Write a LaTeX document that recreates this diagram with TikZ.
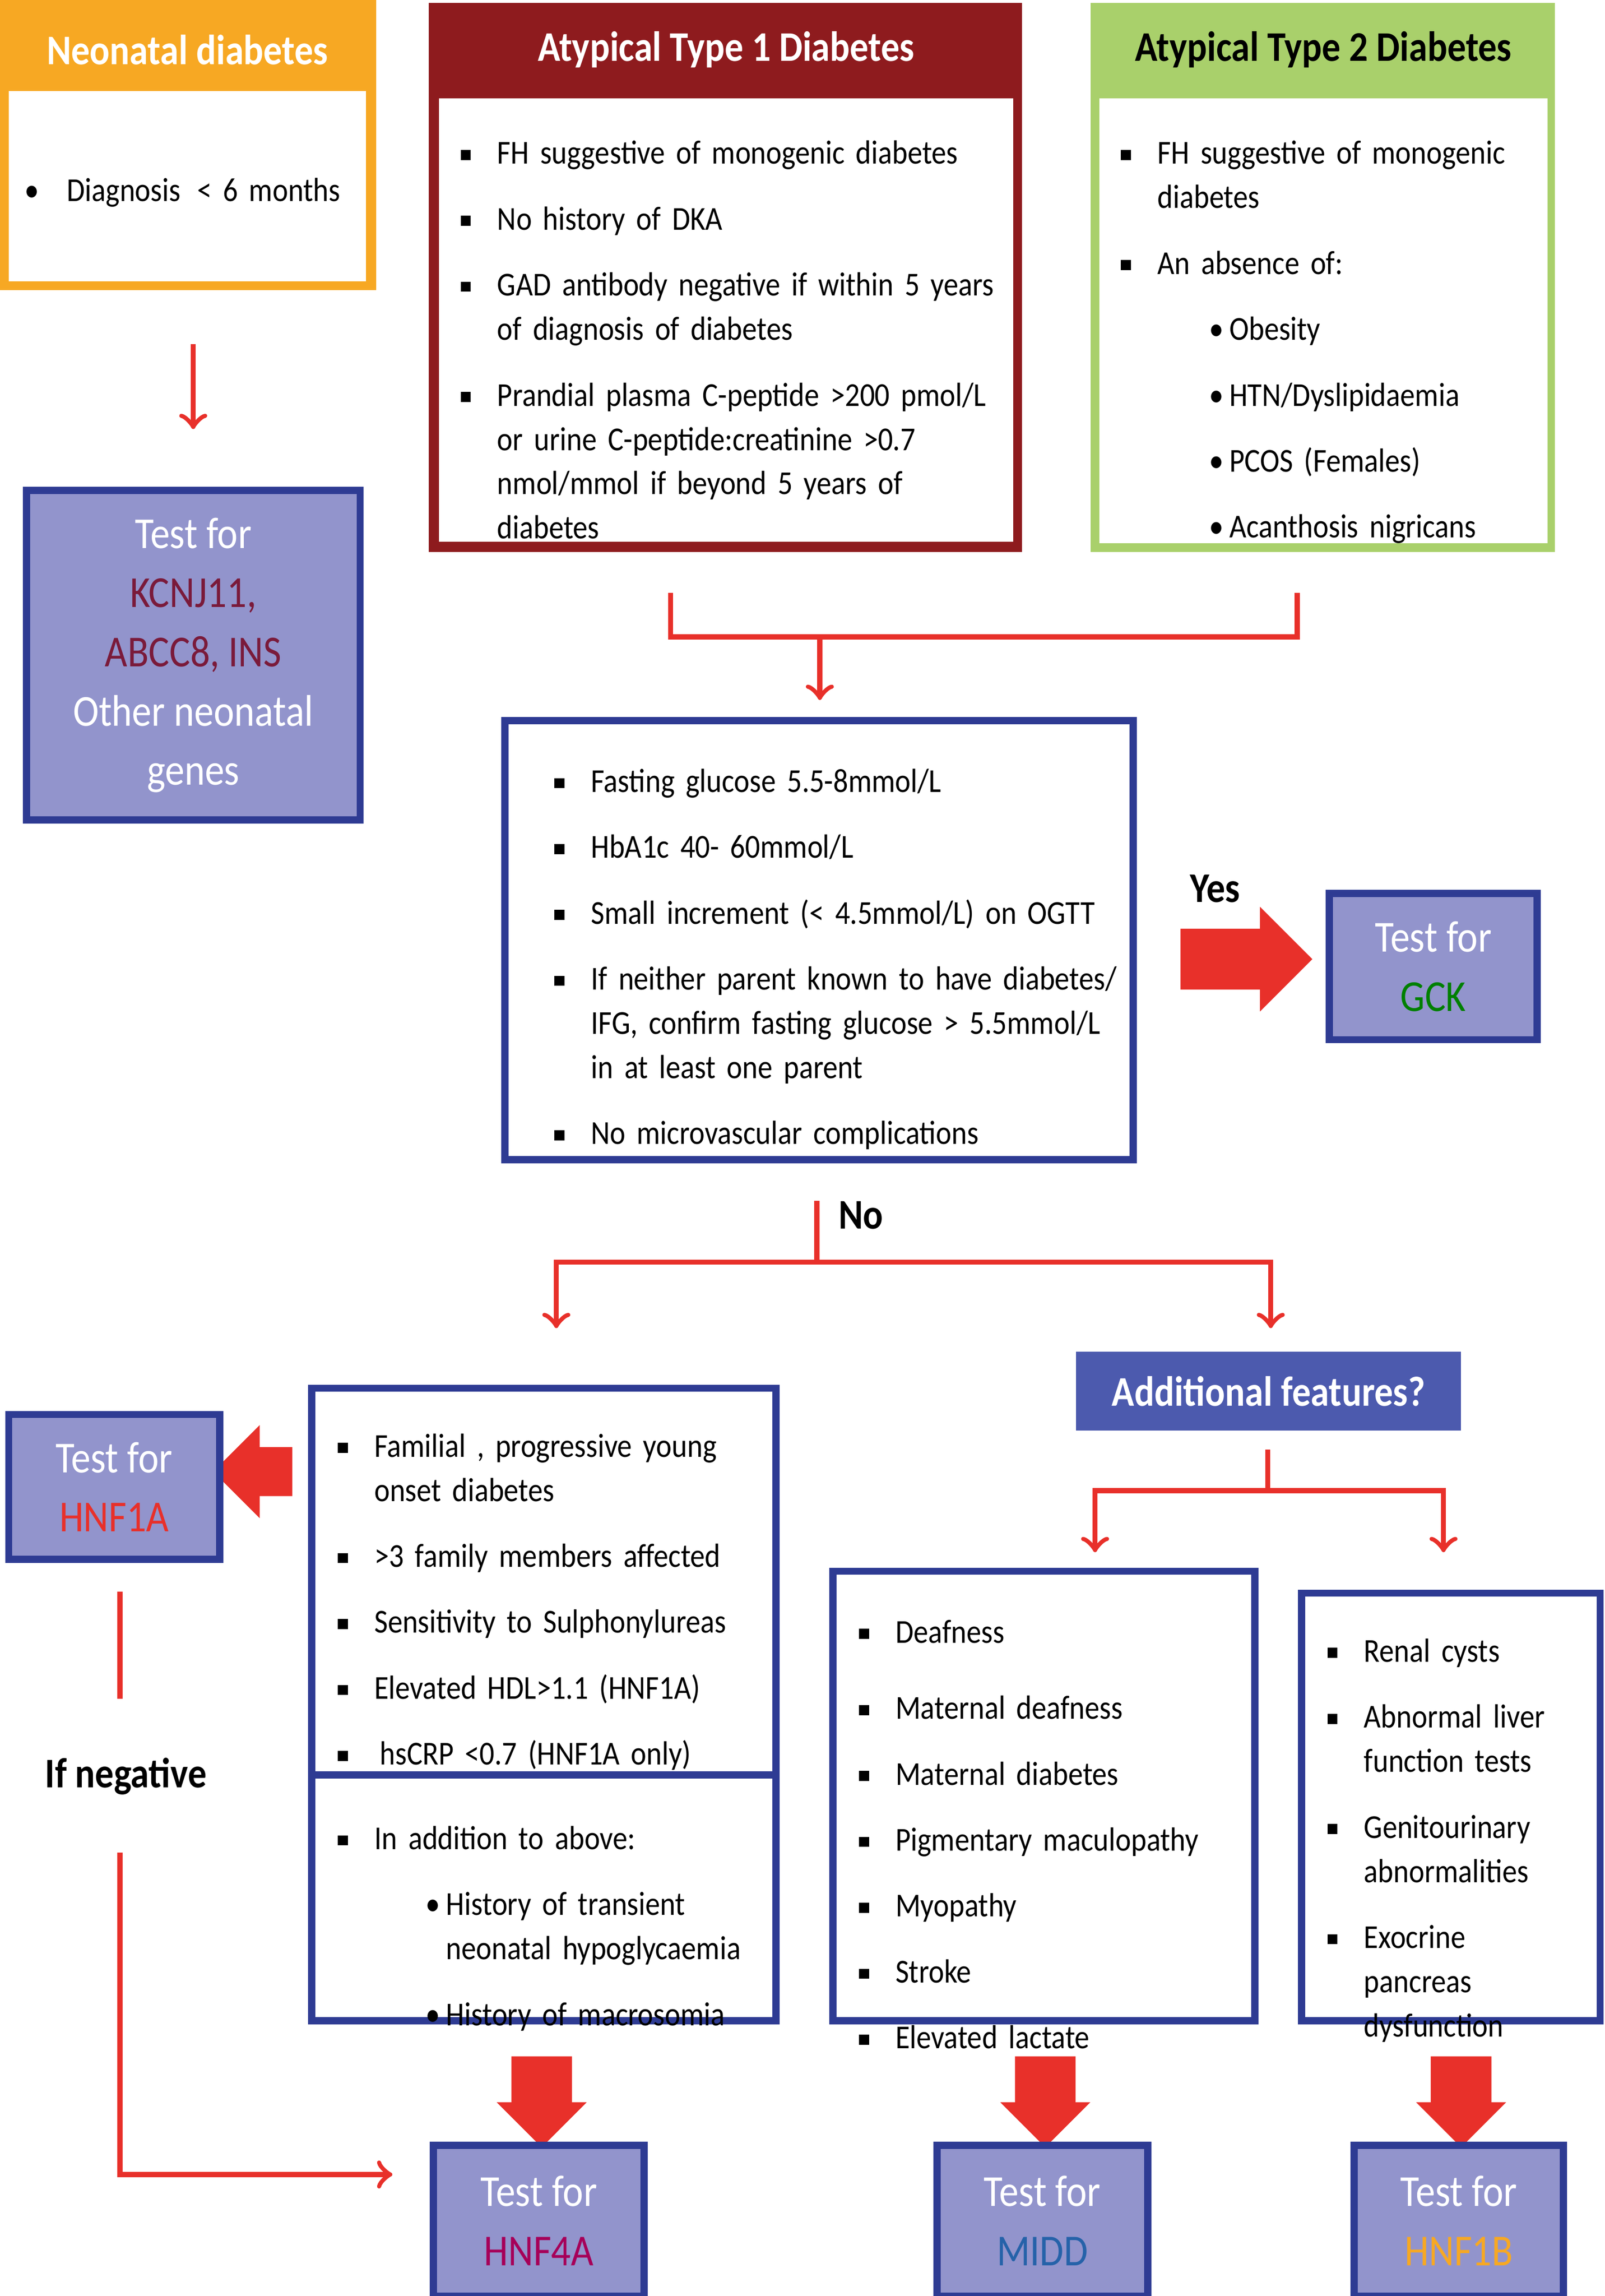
\documentclass[tikz,border=0pt]{standalone}
\usepackage{fontspec}
\setmainfont{Carlito}[FakeStretch=0.88]
\usetikzlibrary{fit,shapes.arrows}

\definecolor{arrowred}{HTML}{E8302A}
\definecolor{boxblue}{HTML}{2E3B93}
\definecolor{lavender}{HTML}{9294CC}
\definecolor{neoorange}{HTML}{F7A823}
\definecolor{t1red}{HTML}{8E1B1E}
\definecolor{t2green}{HTML}{A9D06B}
\definecolor{addblue}{HTML}{4C5AAE}
\definecolor{genered}{HTML}{7A1A3A}

\newlength{\itemgap}
\setlength{\itemgap}{4.2pt}
\newcommand{\nohyph}{\hyphenpenalty=10000\relax\exhyphenpenalty=10000\relax}
\newcommand{\bitem}[1]{\par\hangindent=0.25cm\hangafter=1\noindent\makebox[0.25cm][l]{\rule[0.25ex]{0.3em}{0.3em}}#1\par\vskip\itemgap}
\newcommand{\ritem}[1]{\par\leftskip=0.6cm\hangindent=0.14cm\hangafter=1\noindent\makebox[0.14cm][l]{\textbullet}#1\par\leftskip=0pt\vskip\itemgap}

\begin{document}
\begin{tikzpicture}[x=0.01cm, y=-0.01cm,
	frame/.style={draw=boxblue, line width=1.4pt, inner sep=0pt},
	testbox/.style={frame, fill=lavender},
	txt/.style={anchor=north west, inner sep=0pt, align=left,
		font=\fontsize{6.5}{8.6}\selectfont},
	title/.style={font=\fontsize{8.2}{10}\selectfont\bfseries},
	testtxt/.style={align=center, text=white, font=\fontsize{8.6}{11.5}\selectfont},
	redline/.style={draw=arrowred, line width=1pt},
	fatdown/.style={single arrow, fill=arrowred, shape border rotate=270,
		minimum height=0.62cm, inner sep=0.2cm, single arrow head extend=0.1cm},
	fatside/.style={single arrow, fill=arrowred,
		minimum height=0.9cm, inner sep=0.2cm, single arrow head extend=0.15cm}]

	\useasboundingbox (0,0) rectangle (1096,1568);

	% top row
	\node[fit={(0,0)(257,198)}, inner sep=0pt, fill=neoorange] (neo) {};
	\node[fit={(6,62)(250,192)}, inner sep=0pt, fill=white] (neo-in) {};
	\node[title, text=white] (neo-h) at (128,34) {Neonatal diabetes};
	\node[txt, text width=2.4cm] (neo-t) at (16,121) {\nohyph\makebox[0.29cm][l]{\textbullet}Diagnosis \,< 6 months};

	\node[fit={(293,2)(698,377)}, inner sep=0pt, fill=t1red] (t1) {};
	\node[fit={(300,67)(692,370)}, inner sep=0pt, fill=white] (t1-in) {};
	\node[title, text=white] (t1-h) at (496,34) {Atypical Type 1 Diabetes};
	\node[txt, text width=3.65cm] (t1-t) at (314,81) {\nohyph
		\bitem{FH suggestive of monogenic diabetes}
		\bitem{No history of DKA}
		\bitem{GAD antibody negative if within 5 years of diagnosis of diabetes}
		\bitem{Prandial plasma C-peptide >200 pmol/L or urine C-peptide:creatinine >0.7 nmol/mmol if beyond 5 years of diabetes}};

	\node[fit={(745,2)(1062,377)}, inner sep=0pt, fill=t2green] (t2) {};
	\node[fit={(751,67)(1057,371)}, inner sep=0pt, fill=white] (t2-in) {};
	\node[title] (t2-h) at (904,34) {Atypical Type 2 Diabetes};
	\node[txt, text width=2.8cm] (t2-t) at (765,81) {\nohyph
		\bitem{FH suggestive of monogenic diabetes}
		\bitem{An absence of:}
		\ritem{Obesity}
		\ritem{HTN/Dyslipidaemia}
		\ritem{PCOS (Females)}
		\ritem{Acanthosis nigricans}};

	% neonatal test
	\coordinate (neo-a) at (132,235);
	\coordinate (neo-b) at (132,293);
	\node[testbox, fit={(18,335)(246,560)}] (kcnj) {};
	\node[testtxt] at (kcnj) {Test for\\\textcolor{genered}{KCNJ11,}\\\textcolor{genered}{ABCC8, INS}\\Other neonatal\\genes};
	\draw[redline, ->] (neo-a) -- (neo-b);

	% bracket to middle box
	\coordinate (br1) at (458,405);
	\coordinate (br2) at (886,405);
	\coordinate (brm) at (560,435);
	\coordinate (brm-a) at (560,478);
	\draw[redline] (br1) |- (brm) -| (br2);
	\node[frame, fit={(345,492)(774,792)}] (gck-c) {};
	\draw[redline, ->] (brm) -- (brm-a);
	\node[txt, text width=3.9cm] (gck-t) at (378,510) {\nohyph
		\bitem{Fasting glucose 5.5-8mmol/L}
		\bitem{HbA1c 40- 60mmol/L}
		\bitem{Small increment (< 4.5mmol/L) on OGTT}
		\bitem{If neither parent known to have diabetes/ IFG, confirm fasting glucose > 5.5mmol/L in at least one parent}
		\bitem{No microvascular complications}};

	% yes -> GCK
	\node[fatside] (yes-a) at (841,655) {};
	\node[title] (yes) at (830,607) {Yes};
	\node[testbox, fit={(908,610)(1050,710)}] (gck) {};
	\node[testtxt] at (gck) {Test for\\\textcolor{green!50!black}{GCK}};

	% no split
	\coordinate (no1) at (558,820);
	\coordinate (no2) at (558,862);
	\coordinate (nl) at (380,862);
	\coordinate (nr) at (868,862);
	\node[title] (no) at (588,830) {No};
	\draw[redline] (no1) -- (no2);
	\draw[redline, ->] (no2) -- (nl) -- (380,907);
	\draw[redline, ->] (no2) -- (nr) -- (868,907);

	% HNF1A / HNF4A criteria
	\node[frame, fit={(213,948)(530,1212)}] (hnf1a-c) {};
	\node[frame, fit={(213,1212)(530,1380)}] (hnf4a-c) {};
	\node[txt, text width=2.85cm] (hnf1a-t) at (230,964) {\nohyph
		\bitem{Familial , progressive young onset diabetes}
		\bitem{>3 family members affected}
		\bitem{Sensitivity to Sulphonylureas}
		\bitem{Elevated HDL>1.1 (HNF1A)}
		\bitem{\,hsCRP <0.7 (HNF1A only)}};
	\node[txt, text width=2.9cm] (hnf4a-t) at (230,1232) {\nohyph
		\bitem{In addition to above:}
		\ritem{History of transient neonatal hypoglycaemia}
		\ritem{History of macrosomia}};
	\node[fatside, shape border rotate=180, minimum height=0.54cm, inner sep=0.16cm] (hnf1a-a) at (181,1005) {};
	\node[testbox, fit={(6,966)(150,1065)}] (hnf1a) {};
	\node[testtxt] at (hnf1a) {Test for\\\textcolor{arrowred}{HNF1A}};

	% if negative
	\coordinate (neg1) at (82,1087);
	\coordinate (neg2) at (82,1160);
	\coordinate (neg3) at (82,1265);
	\coordinate (neg4) at (82,1485);
	\draw[redline] (neg1) -- (neg2);
	\node[title] (neg) at (86,1213) {If negative};
	\draw[redline, ->] (neg3) -- (neg4) -- (268,1485);

	% additional features
	\node[fit={(735,923)(998,977)}, inner sep=0pt, fill=addblue] (add) {};
	\node[title, text=white] at (add) {Additional features?};
	\coordinate (ad1) at (866,990);
	\coordinate (ad2) at (866,1018);
	\draw[redline] (ad1) -- (ad2);
	\draw[redline, ->] (ad2) -- (748,1018) -- (748,1060);
	\draw[redline, ->] (ad2) -- (986,1018) -- (986,1060);

	\node[frame, fit={(569,1073)(857,1380)}] (midd-c) {};
	\node[txt, text width=2.6cm] (midd-t) at (586,1091) {\nohyph
		\bitem{Deafness}\vspace{2pt}
		\bitem{Maternal deafness}
		\bitem{Maternal diabetes}
		\bitem{Pigmentary maculopathy}
		\bitem{Myopathy}
		\bitem{Stroke}
		\bitem{Elevated lactate}};
	\node[frame, fit={(889,1088)(1093,1380)}] (hnf1b-c) {};
	\node[txt, text width=1.7cm] (hnf1b-t) at (906,1104) {\nohyph
		\bitem{Renal cysts}
		\bitem{Abnormal liver function tests}
		\bitem{Genitourinary abnormalities}
		\bitem{Exocrine pancreas dysfunction}};

	% bottom tests
	\node[fatdown] (a4a) at (370,1425) {};
	\node[fatdown] (amidd) at (714,1425) {};
	\node[fatdown] (a1b) at (998,1425) {};
	\node[testbox, fit={(296,1465)(440,1568)}] (hnf4a) {};
	\node[testtxt] at (hnf4a) {Test for\\\textcolor{violet!70!red}{HNF4A}};
	\node[testbox, fit={(640,1465)(784,1568)}] (midd) {};
	\node[testtxt] at (midd) {Test for\\\textcolor{boxblue!80!cyan}{MIDD}};
	\node[testbox, fit={(925,1465)(1068,1568)}] (hnf1b) {};
	\node[testtxt] at (hnf1b) {Test for\\\textcolor{neoorange}{HNF1B}};

\end{tikzpicture}
\end{document}
